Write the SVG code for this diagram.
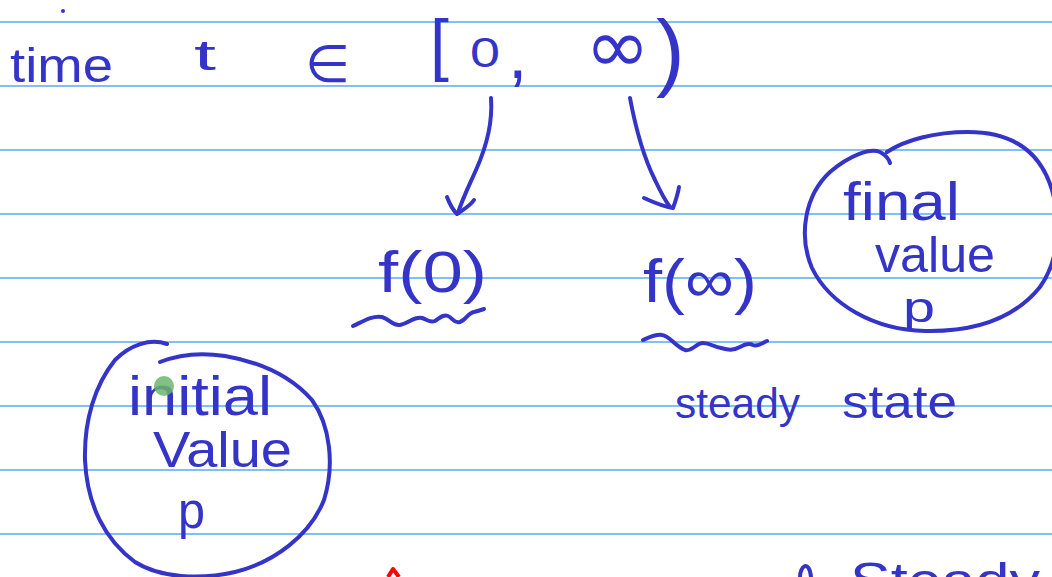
<svg xmlns="http://www.w3.org/2000/svg" width="1052" height="577" viewBox="0 0 1052 577">
<style>
.rule{stroke:#56aaf8;stroke-width:1.6}
.ink{fill:none;stroke:#3434c8;stroke-width:4;stroke-linecap:round;stroke-linejoin:round}
.t{fill:#3434c8;font-family:"Liberation Sans","DejaVu Sans",sans-serif}
.m{fill:#3434c8;font-family:"DejaVu Sans","Liberation Sans",sans-serif}
</style>
<rect width="1052" height="577" fill="#ffffff"/>
<g id="rules">
<line class="rule" x1="0" y1="22" x2="1052" y2="22"/>
<line class="rule" x1="0" y1="86" x2="1052" y2="86"/>
<line class="rule" x1="0" y1="150" x2="1052" y2="150"/>
<line class="rule" x1="0" y1="214" x2="1052" y2="214"/>
<line class="rule" x1="0" y1="278" x2="1052" y2="278"/>
<line class="rule" x1="0" y1="342" x2="1052" y2="342"/>
<line class="rule" x1="0" y1="406" x2="1052" y2="406"/>
<line class="rule" x1="0" y1="470" x2="1052" y2="470"/>
<line class="rule" x1="0" y1="534" x2="1052" y2="534"/>
</g>
<circle cx="63" cy="11" r="2" fill="#3434c8"/>
<g id="time-domain">
<text class="t" x="10" y="82" font-size="48" textLength="103" lengthAdjust="spacingAndGlyphs">time</text>
<text class="t" x="194" y="70" font-size="42" textLength="22" lengthAdjust="spacingAndGlyphs">t</text>
<text class="m" x="305" y="82" font-size="52" textLength="45" lengthAdjust="spacingAndGlyphs">∈</text>
<text class="t" x="430" y="68" font-size="68">[</text>
<text class="t" x="470" y="67" font-size="42" textLength="30" lengthAdjust="spacingAndGlyphs">0</text>
<text class="t" x="508" y="78" font-size="70">,</text>
<text class="m" x="585" y="72" font-size="75" textLength="65" lengthAdjust="spacingAndGlyphs">∞</text>
<text class="t" x="656" y="80" font-size="86">)</text>
</g>
<g id="connectors">
<path class="ink" d="M491,98 C493,125 485,150 476,170 C468,188 462,200 458,213"/>
<path class="ink" d="M447,197 C450,205 453,210 457,214 C463,210 470,206 474,200"/>
<path class="ink" d="M630,98 C636,130 645,160 655,180 C662,195 667,203 670,207"/>
<path class="ink" d="M644,198 C655,203 665,207 673,208 C676,200 678,193 679,187"/>
</g>
<g id="f0">
<text class="t" x="378" y="292" font-size="58" textLength="109" lengthAdjust="spacingAndGlyphs">f(0)</text>
<path class="ink" d="M353,326 C362,322 372,315 382,317 C390,319 392,326 400,325 C410,323 414,316 422,318 C428,320 430,323 435,321 C440,318 443,314 448,316 C453,318 454,324 460,322 C466,320 468,313 474,312 C478,311 481,310 484,309"/>
</g>
<g id="finf">
<text class="t" x="643" y="302" font-size="62" textLength="114" lengthAdjust="spacingAndGlyphs">f(∞)</text>
<path class="ink" d="M643,340 C650,337 656,334 662,335 C670,336 675,346 685,350 C692,352 696,343 703,343 C710,343 714,347 721,348 C728,350 733,351 740,347 C745,344 749,343 753,345 C758,347 762,343 767,341"/>
</g>
<g id="final-value">
<path class="ink" d="M887,152 C905,140 935,132 968,132 C1010,132 1040,150 1052,190 C1062,225 1058,262 1040,287 C1015,318 975,332 925,331 C875,330 830,305 812,268 C798,235 805,195 830,172 C850,155 870,148 880,152 C886,155 889,160 890,163"/>
<text class="t" x="843" y="220" font-size="54" textLength="117" lengthAdjust="spacingAndGlyphs">final</text>
<text class="t" x="875" y="272" font-size="50" textLength="120" lengthAdjust="spacingAndGlyphs">value</text>
<text class="t" x="903" y="322" font-size="42" textLength="32" lengthAdjust="spacingAndGlyphs">p</text>
</g>
<g id="initial-value">
<path class="ink" d="M167,344 C150,338 130,345 115,360 C95,385 84,420 85,460 C87,505 105,540 135,562 C160,578 200,580 235,572 C275,562 310,535 324,500 C335,465 330,425 312,400 C290,375 260,362 225,356 C200,352 180,354 160,362"/>
<text class="t" x="128" y="415" font-size="55" textLength="144" lengthAdjust="spacingAndGlyphs">initial</text>
<text class="t" x="153" y="467" font-size="50" textLength="139" lengthAdjust="spacingAndGlyphs">Value</text>
<text class="t" x="178" y="528" font-size="52" textLength="27" lengthAdjust="spacingAndGlyphs">p</text>
<circle cx="164" cy="386" r="10" fill="#6db56d" fill-opacity="0.85"/>
</g>
<g id="steady-state">
<text class="t" x="675" y="418" font-size="42" textLength="125" lengthAdjust="spacingAndGlyphs">steady</text>
<text class="t" x="842" y="418" font-size="46" textLength="115" lengthAdjust="spacingAndGlyphs">state</text>
</g>
<g id="bottom">
<path d="M388,577 L393,569 L399,577" fill="none" stroke="#ff0000" stroke-width="4" stroke-linejoin="round"/>
<path class="ink" d="M800,577 C800,566 809,559 811,577"/>
<text class="t" x="850" y="598" font-size="50" textLength="190" lengthAdjust="spacingAndGlyphs">Steady</text>
</g>
</svg>
